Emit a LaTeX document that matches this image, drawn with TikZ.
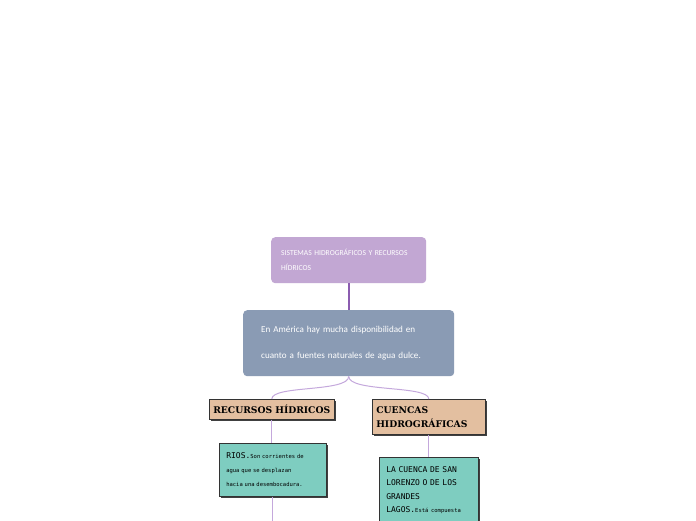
\documentclass[tikz,border=0pt]{standalone}
\usepackage{fontspec}
\setmainfont{Carlito}
\newfontfamily\slabfont{DejaVu Serif}
\newfontfamily\monofont{DejaVu Sans Mono}
\usetikzlibrary{shadows}
\definecolor{titlefill}{HTML}{C2A7D3}
\definecolor{bluefill}{HTML}{8A9BB4}
\definecolor{tanfill}{HTML}{E3BFA0}
\definecolor{tealfill}{HTML}{7ECDC0}
\definecolor{stemcol}{HTML}{8B5CB0}
\definecolor{branchcol}{HTML}{C4A8DC}
\definecolor{edgecol}{HTML}{333333}
\tikzset{
  roundbox/.style={rounded corners=4pt, text=white, align=left, anchor=north west, inner ysep=0pt},
  tanbox/.style={fill=tanfill, draw=edgecol, line width=0.6pt, anchor=north west, align=left,
    inner ysep=0pt, font=\slabfont\bfseries\fontsize{9.2}{14}\selectfont,
    drop shadow={shadow xshift=2pt, shadow yshift=-2pt, fill=black!75, opacity=1}},
  tealbox/.style={fill=tealfill, draw=edgecol, line width=0.6pt, anchor=north west, align=left,
    inner xsep=7pt, font=\monofont,
    drop shadow={shadow xshift=2pt, shadow yshift=-2pt, fill=black!75, opacity=1}},
  stemline/.style={draw=stemcol, line width=2pt},
  branch/.style={draw=branchcol, line width=1pt}
}
\begin{document}
\begin{tikzpicture}[x=1pt,y=-1pt]
\useasboundingbox (0,0) rectangle (696,520);
\fill[white] (0,0) rectangle (696,520);
\node[roundbox, fill=titlefill, minimum width=155pt, minimum height=46pt, inner xsep=10pt,
  text width=135pt, font=\fontsize{7.6}{15}\selectfont] (title) at (271,237)
  {SISTEMAS HIDROGRÁFICOS Y RECURSOS\\HÍDRICOS};
\node[roundbox, fill=bluefill, minimum width=211pt, minimum height=66pt, inner xsep=18pt,
  text width=175pt, font=\fontsize{9.1}{26}\selectfont] (blue) at (243,310)
  {En América hay mucha disponibilidad en\\cuanto a fuentes naturales de agua dulce.};
\node[tanbox, minimum width=125pt, minimum height=20pt, inner xsep=4pt, text width=117pt] (rec) at (209,399)
  {\mbox{RECURSOS HÍDRICOS}};
\node[tanbox, minimum width=113pt, minimum height=35pt, inner xsep=4pt, text width=105pt] (cue) at (372,399)
  {CUENCAS\\\mbox{HIDROGRÁFICAS}};
\node[tealbox, inner ysep=9.5pt, text width=93pt, font=\monofont\fontsize{5.5}{14}\selectfont] (rios) at (219,443)
  {{\fontsize{8}{14}\selectfont RIOS.}Son corrientes de\\agua que se desplazan\\hacia una desembocadura.};
\node[tealbox, inner ysep=9pt, text width=85pt, font=\monofont\fontsize{8}{13.5}\selectfont] (lago) at (379,457)
  {LA CUENCA DE SAN\\LORENZO O DE LOS\\GRANDES\\LAGOS.{\fontsize{5.5}{13.5}\selectfont Está compuesta}\\\mbox{}\\\mbox{}};
\coordinate (riosend) at ([yshift=-40pt]rios.south);
\draw[stemline] (title.south) -- (blue.north);
\draw[branch] (blue.south) .. controls +(0,16) and +(0,-14) .. (rec.north);
\draw[branch] (blue.south) .. controls +(0,16) and +(0,-14) .. (cue.north);
\draw[branch] (rec.south) -- (rec.south |- rios.north);
\draw[branch] (rios.south) -- (riosend);
\draw[branch] (cue.south) -- (cue.south |- lago.north);
\end{tikzpicture}
\end{document}
